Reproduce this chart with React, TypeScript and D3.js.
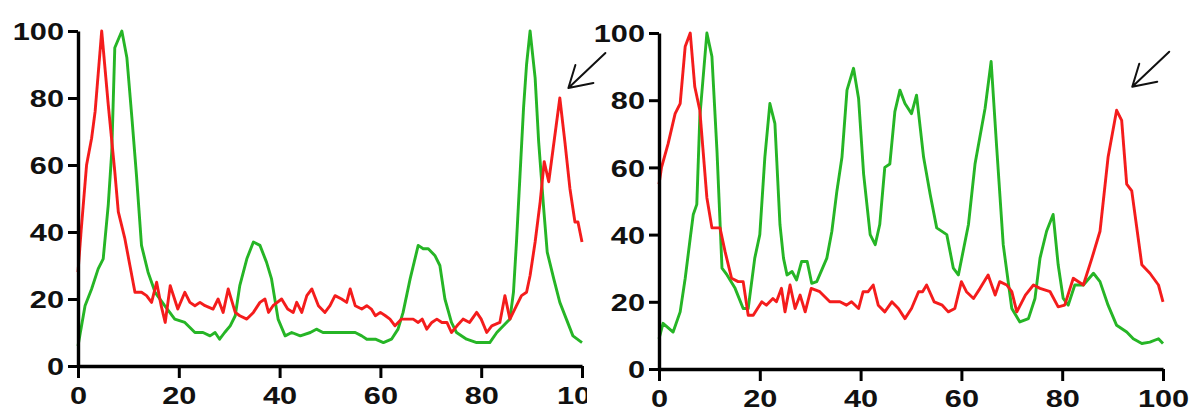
import React, { useRef, useEffect } from "react";
import * as d3 from "d3";

type Pt = [number, number];

const xTicks = [0, 20, 40, 60, 80, 100];
const yTicks = [0, 20, 40, 60, 80, 100];

// left panel, [position, intensity]
const leftRed: Pt[] = [
  [0, 28], [0.6, 40], [1.7, 60], [2.7, 68], [3.4, 76], [4.7, 100], [6, 78], [7.3, 58], [8, 46], [9.3, 38],
  [10.3, 30], [11.3, 22], [12.6, 22], [13.6, 21], [14.6, 19], [15.6, 25], [16.5, 18], [17.3, 13], [18.3, 24],
  [19.8, 17], [21.2, 22], [22.2, 19], [23.2, 18], [24.2, 19], [25.2, 18], [26.8, 17], [27.8, 20], [28.8, 16],
  [29.8, 23], [31.2, 16], [32.1, 15], [33.5, 14], [34.8, 16], [36.1, 19], [37.1, 20], [37.8, 16], [38.7, 18],
  [40.4, 20], [41.6, 17], [42.7, 16], [43.4, 19], [44.4, 16], [45.4, 21], [46.4, 23], [47.7, 18], [49, 16],
  [50, 18], [51, 21], [52.3, 20], [53.3, 19], [54, 23], [55, 18], [56.3, 17], [57.3, 18], [58.2, 17], [59, 15],
  [60, 16], [61, 15], [61.9, 14], [62.9, 12], [64.2, 14], [65.5, 14], [66.5, 14], [67.5, 13], [68.3, 14],
  [69.2, 11], [70.2, 13], [71.2, 14], [72.2, 13], [73.2, 13], [74.1, 10], [75.2, 12], [76.4, 14], [77.7, 13],
  [79.1, 16], [80, 14], [81.1, 10], [82.1, 12], [83.7, 13], [84.7, 21], [85.7, 14], [87, 18], [88, 21], [89, 22],
  [89.7, 27], [90.7, 37], [91.7, 49], [92.5, 61], [93.4, 55], [95.6, 80], [96.6, 67], [97.6, 53], [98.6, 43],
  [99.2, 43], [100, 37],
];

const leftGreen: Pt[] = [
  [0, 6], [1.4, 18], [2.7, 23], [4, 29], [5, 32], [6, 48], [6.7, 64], [7.3, 95], [8.7, 100], [9.7, 92],
  [10.7, 74], [11.6, 57], [12.6, 36], [13.9, 28], [15.3, 22], [17.2, 18], [19.2, 14], [21.2, 13], [23.2, 10],
  [24.8, 10], [26.2, 9], [27.2, 10], [28.1, 8], [29.1, 10], [30.2, 12], [31.2, 15], [32.1, 24], [33.5, 32],
  [34.8, 37], [36.1, 36], [37.4, 31], [38.4, 26], [39.7, 14], [41.1, 9], [42.4, 10], [44.1, 9], [46.1, 10],
  [47.3, 11], [48.6, 10], [51.6, 10], [53.6, 10], [55, 10], [56.3, 9], [57.3, 8], [59, 8], [60.6, 7], [62.2, 8],
  [63.5, 11], [64.5, 16], [65.9, 26], [67.5, 36], [68.5, 35], [69.5, 35], [70.8, 33], [71.8, 30], [72.8, 20],
  [74.1, 13], [75.1, 10], [77.1, 8], [79.1, 7], [80.4, 7], [81.7, 7], [83.1, 10], [84.4, 12], [85.7, 14],
  [86.4, 22], [87, 37], [87.7, 57], [88.4, 77], [89, 90], [89.7, 100], [90.7, 86], [91.4, 67], [92.4, 47],
  [93.1, 34], [94.4, 26], [95.6, 19], [96.9, 14], [98.2, 9], [100, 7],
];

// right panel
const rightRed: Pt[] = [
  [0, 55], [0.5, 60], [1.8, 67], [3.2, 76], [4.2, 79], [5.2, 96], [6.2, 100], [7.1, 84], [8.1, 77], [9.5, 51],
  [10.5, 42], [12.1, 42], [13.1, 35], [14.4, 27], [15.7, 26], [16.7, 26], [17.7, 16], [18.7, 16], [20.4, 20],
  [21.3, 19], [22.6, 21], [23.3, 20], [24.3, 24], [25, 17], [26, 25], [27, 18], [28, 22], [29, 17], [30.2, 24],
  [31.9, 23], [33.9, 20], [35.9, 20], [37.2, 19], [38.2, 20], [39.6, 18], [40.5, 23], [41.5, 23], [42.5, 25],
  [43.5, 19], [44.8, 17], [46.2, 20], [47.5, 18], [48.8, 15], [50.1, 18], [51.5, 23], [52.3, 23], [53.1, 25],
  [54.6, 20], [56.2, 19], [57.4, 17], [58.7, 18], [60, 26], [61, 23], [62.4, 21], [63.7, 24], [65.3, 28],
  [66.7, 22], [67.6, 26], [69, 25], [70, 23], [71, 17], [72.7, 22], [74.3, 25], [75.6, 24], [77.6, 23],
  [79.2, 18.5], [80.5, 19], [82.2, 27], [84.2, 25], [85.9, 33], [87.5, 41], [89.1, 63], [90.8, 77], [91.8, 74],
  [92.8, 55], [93.8, 53], [95.8, 31], [97.4, 28.5], [99.1, 25], [100, 20],
];

const rightGreen: Pt[] = [
  [0, 9], [0.8, 13.6], [2.8, 11], [4.2, 17], [5.2, 27], [6.2, 39], [6.8, 46], [7.5, 49], [8.1, 75], [9.5, 100],
  [10.5, 93], [11.5, 65], [12.5, 30], [13.5, 28], [15.1, 24], [16.7, 18], [17.7, 18], [19, 33], [20, 40],
  [21, 63], [22, 79], [23, 73], [24, 43], [24.7, 33], [25.4, 28], [26.4, 29], [27.3, 26.5], [28.3, 32],
  [29.4, 32], [30.3, 25.5], [31.3, 26], [33.3, 33], [34.3, 41], [35.3, 53], [36.3, 63], [37.3, 83], [38.6, 89.5],
  [39.6, 80.5], [40.6, 58], [41.9, 40], [42.9, 37], [43.8, 43], [44.8, 60], [45.8, 61], [46.8, 76.6], [47.8, 83],
  [48.8, 79], [50.1, 76], [51.1, 81.5], [52.5, 63], [53.8, 52], [55.1, 42], [57.1, 40], [58.4, 30], [59.4, 28],
  [61.4, 43], [62.7, 61], [64.7, 77.6], [65.9, 91.5], [67, 66], [68.3, 37], [70, 18], [71.6, 14], [73.3, 15],
  [74.6, 21], [75.6, 33], [76.9, 41], [78.2, 46], [79.2, 31], [80.2, 21], [81.2, 19], [82.5, 25], [84.2, 25],
  [86.2, 28.5], [87.5, 26], [89.1, 19], [90.8, 13], [92.8, 11], [94.1, 9], [95.8, 7.6], [97.4, 8], [99.1, 9],
  [100, 7.6],
];

// arrow tips, in data units, pointing at the red late peak
const leftArrowTip: Pt = [97.3, 83];
const rightArrowTip: Pt = [93.9, 84];

const RED = "#f41c1c";
const GREEN = "#25b525";
const FONT = "'Liberation Sans', Arial, sans-serif";
const SX = 1.28; // labels look horizontally stretched in the original

const panels = [
  { key: "l", red: leftRed, green: leftGreen, arrow: leftArrowTip, xr: [78, 582], yr: [366, 31], clipW: 587 },
  { key: "r", red: rightRed, green: rightGreen, arrow: rightArrowTip, xr: [659, 1163], yr: [369, 33], clipW: 1192 },
];

export default function App() {
  const svgRef = useRef<SVGSVGElement>(null);

  useEffect(() => {
    const svg = d3.select(svgRef.current);
    svg.selectAll("*").remove();

    // the scan is a little soft
    svg.append("filter").attr("id", "soft")
      .append("feGaussianBlur").attr("stdDeviation", 0.35);

    panels.forEach((p) => {
      const x = d3.scaleLinear().domain([0, 100]).range(p.xr);
      const y = d3.scaleLinear().domain([0, 100]).range(p.yr);

      svg.append("clipPath").attr("id", "clip-" + p.key)
        .append("rect").attr("x", p.xr[0] - 90).attr("y", 0)
        .attr("width", p.clipW - (p.xr[0] - 90)).attr("height", 417);

      const g = svg.append("g").attr("clip-path", `url(#clip-${p.key})`);

      const line = d3.line<Pt>().x((d) => x(d[0])).y((d) => y(d[1]));

      const lines = g.append("g").attr("filter", "url(#soft)");
      lines.append("path").datum(p.green).attr("d", line)
        .attr("fill", "none").attr("stroke", GREEN).attr("stroke-width", 2.9)
        .attr("stroke-linejoin", "round");
      lines.append("path").datum(p.red).attr("d", line)
        .attr("fill", "none").attr("stroke", RED).attr("stroke-width", 2.9)
        .attr("stroke-linejoin", "round");

      const yAxis = d3.axisLeft(y).tickValues(yTicks).tickSize(10).tickSizeOuter(0);
      const xAxis = d3.axisBottom(x).tickValues(xTicks).tickSize(12).tickSizeOuter(0);

      const ya = g.append("g").attr("transform", `translate(${p.xr[0]},0)`).call(yAxis);
      const xa = g.append("g").attr("transform", `translate(0,${p.yr[0]})`).call(xAxis);

      [ya, xa].forEach((a) => {
        a.select(".domain").attr("stroke", "#000").attr("stroke-width", 3.4);
        a.selectAll(".tick line").attr("stroke", "#000").attr("stroke-width", 3);
        a.selectAll("text")
          .attr("fill", "#111")
          .style("font-family", FONT)
          .style("font-weight", "bold")
          .style("font-size", "24px");
      });
      ya.selectAll("text").attr("x", 0).attr("dy", "0.36em")
        .attr("transform", `translate(-14,0) scale(${SX},1)`);
      xa.selectAll("text").attr("y", 0).attr("dy", "0.71em")
        .attr("transform", `translate(0,21) scale(${SX},1)`);

      // arrow annotation
      const tx = x(p.arrow[0]);
      const ty = y(p.arrow[1]);
      svg.append("path")
        .attr("d", `M${tx + 37},${ty - 35}L${tx},${ty}M${tx + 25},${ty - 5}L${tx},${ty}L${tx + 7},${ty - 23}`)
        .attr("fill", "none").attr("stroke", "#111").attr("stroke-width", 2)
        .attr("stroke-linecap", "round").attr("stroke-linejoin", "round");
    });
  }, []);

  return (
    <svg
      ref={svgRef}
      width={1192}
      height={417}
      style={{ position: "absolute", left: 0, top: 0, background: "#fff" }}
    />
  );
}
